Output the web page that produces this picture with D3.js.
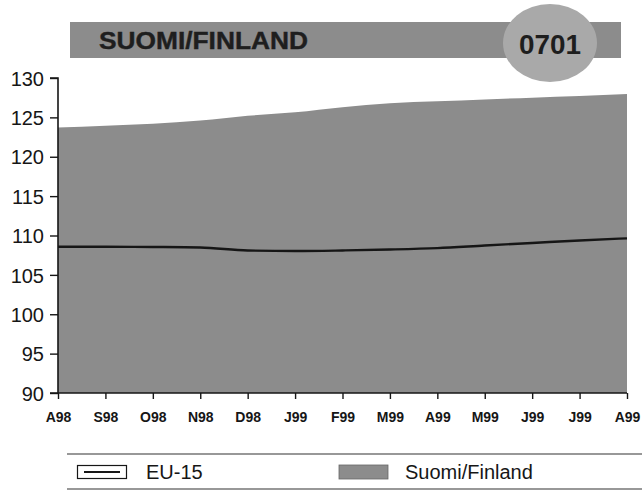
<!DOCTYPE html>
<html>
<head>
<meta charset="utf-8">
<script src="https://cdn.jsdelivr.net/npm/d3@7"></script>
<style>
  html, body { margin: 0; padding: 0; background: #fff; }
  svg { display: block; font-family: "Liberation Sans", Arial, sans-serif; }
</style>
</head>
<body>
<svg id="chart" width="642" height="490"></svg>
<script>
// Monthly index, Aug 1998 – Aug 1999
const months = ["A98", "S98", "O98", "N98", "D98", "J99", "F99", "M99", "A99", "M99", "J99", "J99", "A99"];
const finland = [123.7, 123.95, 124.2, 124.6, 125.2, 125.65, 126.3, 126.8, 127.05, 127.28, 127.5, 127.7, 127.97];
const eu15 = [108.58, 108.57, 108.54, 108.48, 108.1, 108.03, 108.1, 108.22, 108.4, 108.73, 109.05, 109.37, 109.64];
const yTicks = [90, 95, 100, 105, 110, 115, 120, 125, 130];
const title = "SUOMI/FINLAND";
const code = "0701";
const legendItems = ["EU-15", "Suomi/Finland"];

const svg = d3.select("#chart");
const plotLeft = 58, plotRight = 627, plotTop = 78, plotBottom = 393;
const fillGray = "#8c8c8c";
const ink = "#161616";

const x = d3.scalePoint().domain(d3.range(months.length)).range([plotLeft, plotRight]);
const y = d3.scaleLinear().domain([90, 130]).range([plotBottom, plotTop]);

// Title band with the code badge
svg.append("rect").attr("x", 70).attr("y", 22).attr("width", 551).attr("height", 36)
  .attr("fill", fillGray);
svg.append("text").attr("x", 99).attr("y", 48.5)
  .attr("font-size", 23).attr("font-weight", "bold").attr("fill", "#1e1e1e")
  .attr("stroke", "#1e1e1e").attr("stroke-width", 0.4)
  .attr("textLength", 209).attr("lengthAdjust", "spacingAndGlyphs")
  .text(title);
svg.append("ellipse").attr("cx", 550).attr("cy", 43).attr("rx", 47).attr("ry", 39)
  .attr("fill", "#a9a9a9");
svg.append("text").attr("x", 550).attr("y", 53.5).attr("text-anchor", "middle")
  .attr("font-size", 28).attr("font-weight", "bold").attr("fill", "#1e1e1e")
  .attr("textLength", 62).attr("lengthAdjust", "spacingAndGlyphs")
  .text(code);

// Finland area
const area = d3.area()
  .x((d, i) => x(i)).y0(y(90)).y1(d => y(d))
  .curve(d3.curveMonotoneX);
svg.append("path").datum(finland).attr("d", area).attr("fill", fillGray);

// EU-15 line
const line = d3.line()
  .x((d, i) => x(i)).y(d => y(d))
  .curve(d3.curveMonotoneX);
svg.append("path").datum(eu15).attr("d", line)
  .attr("fill", "none").attr("stroke", ink).attr("stroke-width", 2.4);

// Y axis
const yAxis = svg.append("g").attr("transform", `translate(${plotLeft},0)`)
  .call(d3.axisLeft(y).tickValues(yTicks).tickSize(8).tickPadding(6));
yAxis.attr("font-size", null).attr("font-family", null);
yAxis.select(".domain").attr("stroke", ink).attr("stroke-width", 1.6).attr("d", `M-8,${plotTop}H0V${plotBottom}H-8`);
yAxis.selectAll(".tick line").attr("stroke", ink).attr("stroke-width", 1.4);
yAxis.selectAll(".tick text").attr("font-size", 20).attr("fill", ink).attr("dy", "0.36em");

// X axis
const xAxis = svg.append("g").attr("transform", `translate(0,${plotBottom})`)
  .call(d3.axisBottom(x).tickFormat(i => months[i]).tickSize(6).tickPadding(13));
xAxis.attr("font-size", null).attr("font-family", null);
xAxis.select(".domain").attr("stroke", ink).attr("stroke-width", 1.6).attr("d", `M${plotLeft},0H${plotRight}`);
xAxis.selectAll(".tick line").attr("stroke", ink).attr("stroke-width", 1.4);
xAxis.selectAll(".tick text").attr("font-size", 14).attr("font-weight", "bold").attr("fill", ink);

// Legend
svg.append("line").attr("x1", 67).attr("x2", 642).attr("y1", 454).attr("y2", 454)
  .attr("stroke", "#333").attr("stroke-width", 1.2);
svg.append("line").attr("x1", 67).attr("x2", 642).attr("y1", 489).attr("y2", 489)
  .attr("stroke", "#333").attr("stroke-width", 1.2);

svg.append("rect").attr("x", 77.5).attr("y", 465.5).attr("width", 49).attr("height", 13)
  .attr("fill", "#fff").attr("stroke", ink).attr("stroke-width", 1.2);
svg.append("line").attr("x1", 84).attr("x2", 120).attr("y1", 472).attr("y2", 472)
  .attr("stroke", ink).attr("stroke-width", 2);
svg.append("text").attr("x", 146).attr("y", 479).attr("font-size", 20).attr("fill", ink)
  .text(legendItems[0]);

svg.append("rect").attr("x", 339).attr("y", 465).attr("width", 49).attr("height", 14)
  .attr("fill", fillGray).attr("stroke", "#666").attr("stroke-width", 0.8);
svg.append("text").attr("x", 405).attr("y", 479).attr("font-size", 20).attr("fill", ink)
  .text(legendItems[1]);
</script>
</body>
</html>
